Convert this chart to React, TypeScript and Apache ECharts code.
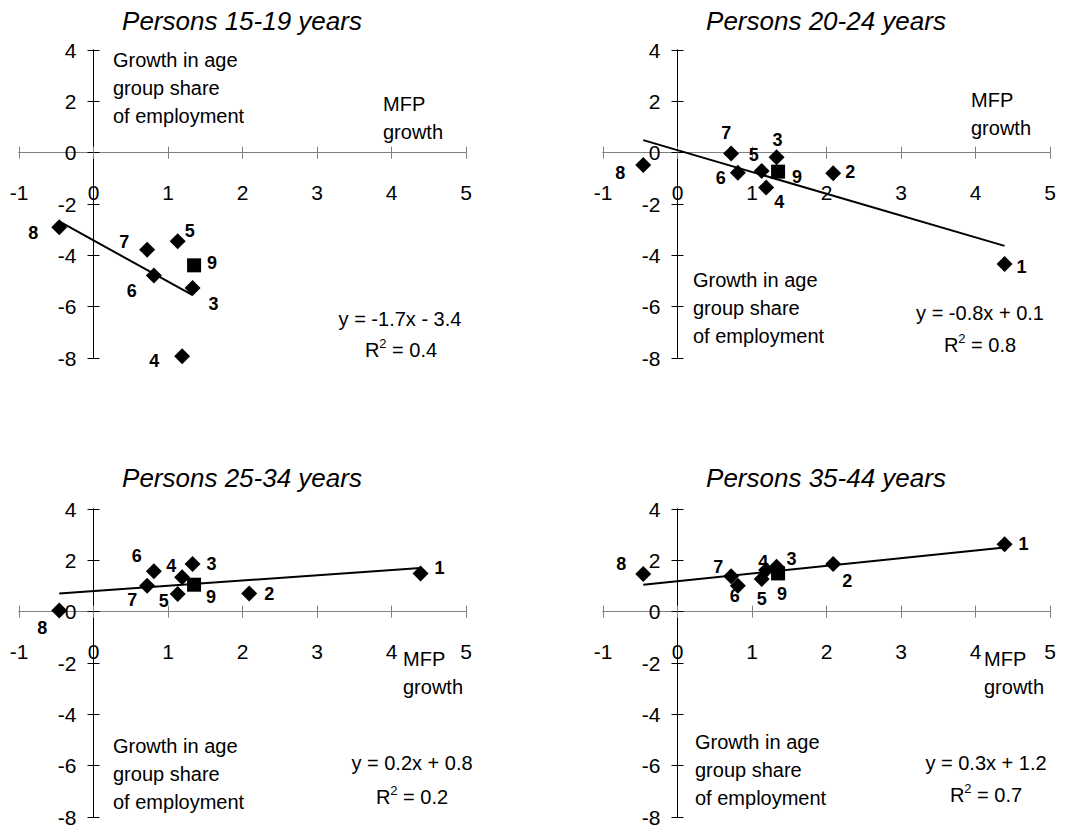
import React, { useEffect, useRef } from 'react';
import * as echarts from 'echarts';

// ---------- DATA ----------
const industries = ['1', '2', '3', '4', '5', '6', '7', '8', '9'];
// MFP growth by industry (x values); industry 9 is the aggregate (square marker)
const mfpGrowth = [4.39, 2.09, 1.33, 1.19, 1.13, 0.81, 0.72, -0.46, 1.35];

// Growth in age group share of employment (y values)
const share15to19 = [null, null, -5.27, -7.93, -3.45, -4.79, -3.78, -2.91, -4.39];
const share20to24 = [-4.34, -0.8, -0.18, -1.36, -0.71, -0.78, -0.03, -0.48, -0.74];
const share25to34 = [1.49, 0.71, 1.86, 1.34, 0.69, 1.57, 1.01, 0.05, 1.05];
const share35to44 = [2.63, 1.86, 1.75, 1.62, 1.27, 1.01, 1.38, 1.47, 1.49];

// Trendline end points
const trend15to19 = [[-0.46, -2.68], [1.33, -5.55]];
const trend20to24 = [[-0.46, 0.49], [4.39, -3.63]];
const trend25to34 = [[-0.46, 0.71], [4.39, 1.7]];
const trend35to44 = [[-0.46, 1.05], [4.39, 2.5]];

const panelTitles = ['Persons 15-19 years', 'Persons 20-24 years', 'Persons 25-34 years', 'Persons 35-44 years'];
const equations = ['y = -1.7x - 3.4', 'y = -0.8x + 0.1', 'y = 0.2x + 0.8', 'y = 0.3x + 1.2'];
const rSquared = ['0.4', '0.8', '0.2', '0.7'];

const xMin = -1;
const xMax = 5;
const xInterval = 1;
const yMin = -8;
const yMax = 4;
const yInterval = 2;

const yAxisTitle = 'Growth in age\ngroup share\nof employment';
const xAxisTitle = 'MFP\ngrowth';

// ---------- LAYOUT (label offsets in px, separate from data) ----------
const labelOffsets15to19 = [null, null, [21, 16], [-28, 5], [12, -10], [-22, 15], [-23, -8], [-26, 6], [18, -2]];
const labelOffsets20to24 = [[17, 3], [17, -1], [1, -17], [13, 14], [-8, -16], [-17, 5], [-5, -20], [-23, 8], [19, 5]];
const labelOffsets25to34 = [[19, -5], [20, 1], [19, 0], [-11, -11], [-14, 7], [-17, -15], [-15, 14], [-17, 18], [17, 12]];
const labelOffsets35to44 = [[19, 0], [14, 17], [15, -8], [-3, -8], [0, 20], [-3, 10], [-13, -9], [-22, -10], [4, 21]];

const shares = [share15to19, share20to24, share25to34, share35to44];
const trends = [trend15to19, trend20to24, trend25to34, trend35to44];
const offsets = [labelOffsets15to19, labelOffsets20to24, labelOffsets25to34, labelOffsets35to44];

const layout = [
  { left: 19, top: 50, titleX: 242, titleY: 8, yTitle: [113, 46], xTitle: [383, 90], eq: [400, 319], r2: [401, 350] },
  { left: 603, top: 50, titleX: 826, titleY: 8, yTitle: [693, 266], xTitle: [971, 86], eq: [980, 313], r2: [980, 345] },
  { left: 19, top: 509, titleX: 242, titleY: 465, yTitle: [113, 732], xTitle: [403, 645], eq: [412, 763], r2: [412, 797] },
  { left: 603, top: 509, titleX: 826, titleY: 465, yTitle: [695, 728], xTitle: [984, 645], eq: [986, 763], r2: [986, 795] },
];

const FONT = '"Liberation Sans", Arial, Helvetica, sans-serif';
const GRID_W = 447;
const GRID_H = 308;
// ECharts keeps labels of an on-zero axis at the grid edge; pull them to the zero line
const X_LABEL_GAP = 29;
const Y_LABEL_GAP = 17;
const xLabelMargin = X_LABEL_GAP - (GRID_H * (0 - yMin)) / (yMax - yMin);
const yLabelMargin = Y_LABEL_GAP - (GRID_W * (0 - xMin)) / (xMax - xMin);

function buildOption() {
  const grid: any[] = [];
  const xAxis: any[] = [];
  const yAxis: any[] = [];
  const series: any[] = [];
  const title: any[] = [];
  const graphic: any[] = [];

  layout.forEach((p, i) => {
    grid.push({ left: p.left, top: p.top, width: GRID_W, height: GRID_H, containLabel: false, outerBoundsMode: 'none' });

    const xBase = {
      type: 'value',
      gridIndex: i,
      min: xMin,
      max: xMax,
      interval: xInterval,
      splitLine: { show: false },
      axisLine: { show: true, onZero: true, lineStyle: { color: '#808080', width: 1 } },
      axisTick: { show: true, length: 6, lineStyle: { color: '#808080', width: 1 } },
    };
    xAxis.push({
      ...xBase,
      position: 'bottom',
      axisLabel: { show: true, margin: xLabelMargin, fontSize: 21, color: '#000', fontFamily: FONT },
    });
    xAxis.push({ ...xBase, position: 'top', axisLabel: { show: false } });

    const yBase = {
      type: 'value',
      gridIndex: i,
      min: yMin,
      max: yMax,
      interval: yInterval,
      splitLine: { show: false },
      axisLine: { show: true, onZero: true, lineStyle: { color: '#000', width: 1 } },
      axisTick: { show: true, length: 6, lineStyle: { color: '#000', width: 1 } },
    };
    yAxis.push({
      ...yBase,
      position: 'left',
      axisLabel: { show: true, margin: yLabelMargin, fontSize: 21, color: '#000', fontFamily: FONT },
    });
    yAxis.push({ ...yBase, position: 'right', axisLabel: { show: false } });

    const diamonds: any[] = [];
    const squares: any[] = [];
    industries.forEach((name, k) => {
      const y = shares[i][k];
      if (y === null || y === undefined) return;
      const item = {
        name,
        value: [mfpGrowth[k], y],
        label: { offset: offsets[i][k] || [0, 0] },
      };
      if (k === 8) squares.push(item);
      else diamonds.push(item);
    });

    const labelStyle = {
      show: true,
      position: 'inside',
      formatter: '{b}',
      fontSize: 18,
      fontWeight: 'bold',
      color: '#000',
      opacity: 1,
      textBorderWidth: 0,
      textBorderColor: 'transparent',
      fontFamily: FONT,
    };

    series.push({
      type: 'line',
      xAxisIndex: 2 * i,
      yAxisIndex: 2 * i,
      data: trends[i],
      showSymbol: false,
      symbol: 'none',
      lineStyle: { color: '#000', width: 2 },
      silent: true,
      z: 2,
    });
    series.push({
      type: 'scatter',
      xAxisIndex: 2 * i,
      yAxisIndex: 2 * i,
      symbol: 'diamond',
      symbolSize: 16,
      itemStyle: { color: '#000', opacity: 1 },
      label: labelStyle,
      data: diamonds,
      z: 3,
    });
    series.push({
      type: 'scatter',
      xAxisIndex: 2 * i,
      yAxisIndex: 2 * i,
      symbol: 'rect',
      symbolSize: 14,
      itemStyle: { color: '#000', opacity: 1 },
      label: labelStyle,
      data: squares,
      z: 3,
    });

    title.push({
      text: panelTitles[i],
      left: p.titleX,
      top: p.titleY,
      textAlign: 'center',
      padding: 0,
      textStyle: { fontSize: 26, fontStyle: 'italic', fontWeight: 'normal', color: '#000', fontFamily: FONT },
    });

    graphic.push({
      type: 'text',
      x: p.yTitle[0],
      y: p.yTitle[1],
      silent: true,
      style: { text: yAxisTitle, fontSize: 20, fontFamily: FONT, fill: '#000', lineHeight: 28, verticalAlign: 'top', align: 'left' },
    });
    graphic.push({
      type: 'text',
      x: p.xTitle[0],
      y: p.xTitle[1],
      silent: true,
      style: { text: xAxisTitle, fontSize: 20, fontFamily: FONT, fill: '#000', lineHeight: 28, verticalAlign: 'top', align: 'left' },
    });
    graphic.push({
      type: 'text',
      x: p.eq[0],
      y: p.eq[1],
      silent: true,
      style: { text: equations[i], fontSize: 20, fontFamily: FONT, fill: '#000', align: 'center', verticalAlign: 'middle' },
    });
    graphic.push({
      type: 'text',
      x: p.r2[0],
      y: p.r2[1],
      silent: true,
      style: {
        text: '{n|R}{s|2}{n| = ' + rSquared[i] + '}',
        align: 'center',
        verticalAlign: 'middle',
        rich: {
          n: { fontSize: 20, fontFamily: FONT, fill: '#000', color: '#000', lineHeight: 26 },
          s: { fontSize: 13, fontFamily: FONT, fill: '#000', color: '#000', lineHeight: 13, verticalAlign: 'top' },
        },
      },
    });
  });

  return {
    animation: false,
    backgroundColor: '#fff',
    title,
    grid,
    xAxis,
    yAxis,
    series,
    graphic,
  };
}

export default function App() {
  const ref = useRef<HTMLDivElement>(null);
  useEffect(() => {
    document.body.style.margin = '0';
    const chart = echarts.init(ref.current as HTMLDivElement, null, { renderer: 'svg' });
    chart.setOption(buildOption() as any);
    return () => chart.dispose();
  }, []);
  return <div ref={ref} style={{ width: 1076, height: 832 }} />;
}
